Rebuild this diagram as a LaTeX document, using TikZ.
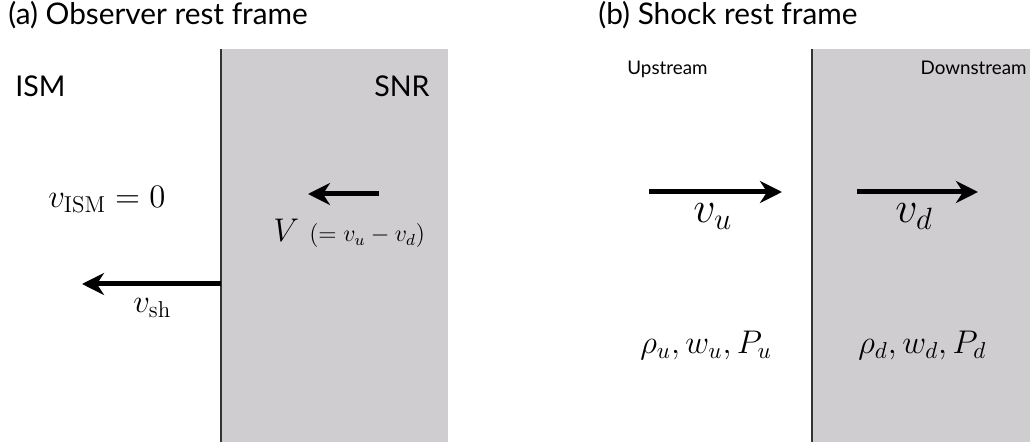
\documentclass[tikz,border=0pt]{standalone}
\usepackage{fix-cm}
\usepackage{amsmath}
\usepackage{fontspec}
\setsansfont{Lato}
\usepackage{tikz}
\usetikzlibrary{positioning, arrows.meta}
\definecolor{shockgrey}{RGB}{207,205,208}

\begin{document}
\begin{tikzpicture}[
			x=0.5pt, y=-0.5pt,
			frametitle/.style={anchor=base west, inner sep=0pt, font=\fontsize{14.9}{17}\selectfont\sffamily},
			region/.style={inner sep=0pt, font=\fontsize{14.3}{17}\selectfont\sffamily},
			smallregion/.style={inner sep=0pt, font=\fontsize{9.4}{11}\selectfont\sffamily},
			mathlbl/.style={anchor=base west, inner sep=0pt, font=\fontsize{16.4}{19}\selectfont},
			biglbl/.style={anchor=base west, inner sep=0pt, font=\fontsize{22}{26}\selectfont},
			flow/.style={-{Stealth[length=11pt, width=11pt, inset=3.5pt]}, line width=2.5pt, draw=black},
			shockfront/.style={draw=black!80, line width=0.8pt},
			shocked/.style={fill=shockgrey}
			]
			\useasboundingbox (0,0) rectangle (1030,442);
			
			% (a) observer rest frame
			\node[frametitle] (titleA) at (8,25) {(a) Observer rest frame};
			\fill[shocked] (221,49) rectangle (448,442);
			\coordinate (frontAtop) at (221,49);
			\coordinate (frontAbot) at (221,442);
			\draw[shockfront] (frontAtop) -- (frontAbot);
			
			\node[region, anchor=base west] (ism) at (15,97) {ISM};
			\node[region, anchor=base east] (snr) at (430,97) {SNR};
			
			\node[mathlbl] (vism) at (48,208) {$v_{\mathrm{ISM}} = 0$};
			
			\coordinate (Vtail) at (379,194);
			\coordinate (Vtip) at (308,194);
			\draw[flow] (Vtail) -- (Vtip);
			\node[mathlbl] (Vlbl) at (273,242) {$V$\hspace{5pt}{\fontsize{12}{14}\selectfont$(= v_u - v_d)$}};
			
			\coordinate (shtail) at (221,284);
			\coordinate (shtip) at (82,284);
			\draw[flow] (shtail) -- (shtip);
			\node[mathlbl] (vsh) at (133,313) {$v_{\mathrm{sh}}$};
			
			% (b) shock rest frame
			\node[frametitle] (titleB) at (598,25) {(b) Shock rest frame};
			\fill[shocked] (812,49) rectangle (1030,442);
			\coordinate (frontBtop) at (812,49);
			\coordinate (frontBbot) at (812,442);
			\draw[shockfront] (frontBtop) -- (frontBbot);
			
			\node[smallregion, anchor=base west] (up) at (627,75) {Upstream};
			\node[smallregion, anchor=base east] (down) at (1027,75) {Downstream};
			
			\coordinate (vutail) at (649,192);
			\coordinate (vutip) at (782,192);
			\draw[flow] (vutail) -- (vutip);
			\node[biglbl] (vu) at (693,223) {$v_u$};
			
			\coordinate (vdtail) at (857,192);
			\coordinate (vdtip) at (978,192);
			\draw[flow] (vdtail) -- (vdtip);
			\node[biglbl] (vd) at (895,223) {$v_d$};
			
			\node[mathlbl] (stateu) at (640,354) {$\rho_u, w_u, P_u$};
			\node[mathlbl] (stated) at (858,354) {$\rho_d, w_d, P_d$};
		\end{tikzpicture}
\end{document}
